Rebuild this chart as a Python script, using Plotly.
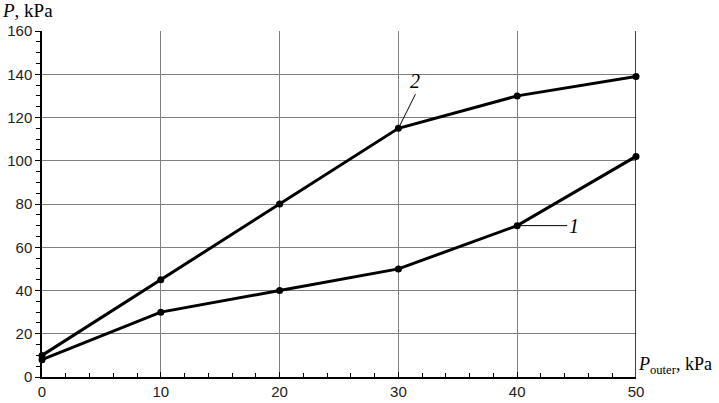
import plotly.graph_objects as go

x_vals = [0, 10, 20, 30, 40, 50]
series1 = [8, 30, 40, 50, 70, 102]
series2 = [10, 45, 80, 115, 130, 139]
x_ticks = [0, 10, 20, 30, 40, 50]
y_ticks = [0, 20, 40, 60, 80, 100, 120, 140, 160]

fig = go.Figure()
for ys in (series1, series2):
    fig.add_trace(go.Scatter(
        x=x_vals, y=ys, mode="lines+markers",
        line=dict(color="black", width=3),
        marker=dict(color="black", size=7),
        showlegend=False, cliponaxis=False,
    ))

tickfont = dict(family="Liberation Sans, Arial, sans-serif", size=15, color="#222222")
fig.update_layout(
    width=719, height=403,
    margin=dict(l=42, r=83, t=31, b=26, autoexpand=False),
    plot_bgcolor="white", paper_bgcolor="white",
    xaxis=dict(
        range=[0, 50], tickvals=x_ticks, ticktext=[str(v) for v in x_ticks],
        showgrid=True, gridcolor="#808080", gridwidth=1,
        zeroline=False, showline=True, linecolor="black", linewidth=1.5,
        mirror=False, ticks="inside", ticklen=5, tickcolor="black",
        minor=dict(dtick=2, ticks="inside", ticklen=4, tickcolor="black", showgrid=False),
        tickfont=tickfont, fixedrange=True, automargin=False,
    ),
    yaxis=dict(
        range=[0, 160], tickvals=y_ticks, ticktext=[str(v) for v in y_ticks],
        showgrid=True, gridcolor="#808080", gridwidth=1,
        zeroline=False, showline=True, linecolor="black", linewidth=1.5,
        ticks="outside", ticklen=5, tickcolor="black",
        minor=dict(dtick=5, ticks="outside", ticklen=4, tickcolor="black", showgrid=False),
        tickfont=tickfont, fixedrange=True, automargin=False,
    ),
    yaxis2=dict(
        range=[0, 160], overlaying="y", side="left", showgrid=False, zeroline=False,
        showticklabels=False, tickvals=y_ticks,
        ticks="inside", ticklen=4, tickcolor="black",
        minor=dict(dtick=5, ticks="inside", ticklen=4, tickcolor="black", showgrid=False),
        fixedrange=True, automargin=False,
    ),
)
# right border line at x=50
fig.add_shape(type="line", xref="x", yref="paper", x0=50, x1=50, y0=0, y1=1,
              line=dict(color="black", width=1.5))

serif = "Liberation Serif, Times New Roman, serif"
fig.add_annotation(xref="paper", yref="paper", x=0.0, y=1.0, xshift=-42, yshift=8,
                   xanchor="left", yanchor="bottom", showarrow=False,
                   text="<i>P</i>, kPa", font=dict(family=serif, size=19, color="black"))
fig.add_annotation(xref="paper", yref="paper", x=1.0, y=0.0, xshift=0, yshift=-2,
                   xanchor="left", yanchor="bottom", showarrow=False,
                   text="<i>P</i><sub>outer</sub>, kPa", font=dict(family=serif, size=18, color="black"))
fig.add_annotation(x=40, y=70, ax=50, ay=0, text="<i>1</i>", showarrow=True,
                   arrowhead=0, arrowwidth=1, arrowcolor="black", standoff=0,
                   font=dict(family=serif, size=20, color="black"), xanchor="left")
fig.add_annotation(x=30, y=115, ax=17, ay=-34, text="<i>2</i>", showarrow=True,
                   arrowhead=0, arrowwidth=1, arrowcolor="black", standoff=2,
                   font=dict(family=serif, size=20, color="black"), yanchor="bottom")

fig.write_html("out.html", post_script="document.body.style.margin='0';",
               config={"displayModeBar": False})
